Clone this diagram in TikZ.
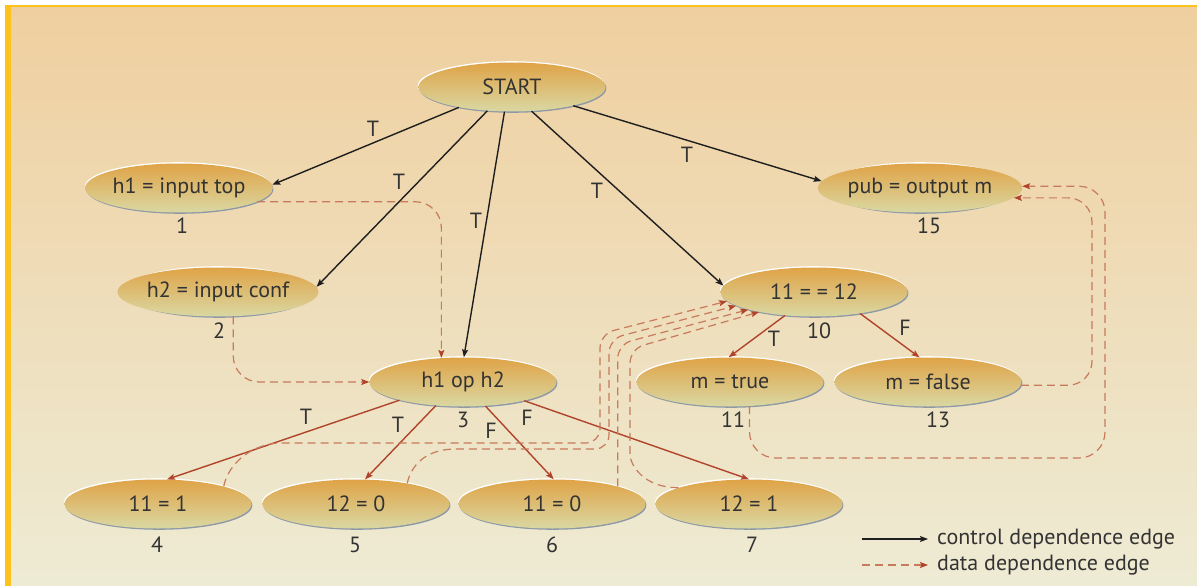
\documentclass[tikz,border=0pt]{standalone}
\usepackage{fontspec}
\setmainfont{PT Sans}
\usetikzlibrary{arrows.meta,shapes.geometric,calc}
\definecolor{bgtop}{HTML}{EFCF9F}
\definecolor{bgbot}{HTML}{EEEBD4}
\definecolor{framecol}{HTML}{FDC31C}
\definecolor{ntop}{HTML}{DFA347}
\definecolor{nbot}{HTML}{DAD8A3}
\definecolor{rimcol}{HTML}{8D99A6}
\definecolor{ctrlcol}{HTML}{1E1E1E}
\definecolor{cdepcol}{HTML}{B0442B}
\definecolor{ddepcol}{HTML}{C77A5C}
\definecolor{txtcol}{HTML}{333333}
\newcommand\pdgnode[4]{%
  \node[rimnode,fill=white] at ([shift={(-0.7pt,1.3pt)}]#2,#3) {};
  \node[rimnode,fill=rimcol] at ([shift={(0.9pt,-1.3pt)}]#2,#3) {};
  \node[pdg] (#1) at (#2,#3) {#4};
}
\begin{document}
\begin{tikzpicture}[x=1pt,y=-1pt,
  txtfont/.style={font=\fontsize{22}{25}\selectfont, text=txtcol},
  rimnode/.style={ellipse, minimum width=187pt, minimum height=49pt, inner sep=0pt, draw=none},
  pdg/.style={ellipse, minimum width=187pt, minimum height=49pt, inner sep=0pt, draw=none,
    top color=ntop, bottom color=nbot, txtfont},
  lab/.style={txtfont, inner sep=1pt},
  ctrl/.style={draw=ctrlcol, line width=1.4pt, -{Stealth[length=8pt,width=6pt,inset=1.5pt]}},
  cdep/.style={draw=cdepcol, line width=1.4pt, -{Stealth[length=8pt,width=6pt,inset=1.5pt]}},
  ddep/.style={draw=ddepcol, line width=1.2pt, dash pattern=on 8pt off 5pt,
    -{Stealth[length=8pt,width=6pt,inset=1.5pt,color=cdepcol]}},
]
\useasboundingbox (0,0) rectangle (1197,586);
\fill[white] (0,0) rectangle (1197,586);
\shade[top color=bgtop, bottom color=bgbot] (8,6) rectangle (1197,586);
\fill[framecol] (5,5) rectangle (1197,6.8);
\fill[framecol] (5,5) rectangle (10.5,586);

% nodes
\pdgnode{st}{512}{87}{START}
\pdgnode{n1}{179}{188}{h1 = input top}
\pdgnode{n2}{218}{292}{h2 = input conf}
\pdgnode{n3}{463}{382}{h1 op h2}
\pdgnode{n4}{158}{504}{11 = 1}
\pdgnode{n5}{356}{504}{12 = 0}
\pdgnode{n6}{552}{504}{11 = 0}
\pdgnode{n7}{749}{504}{12 = 1}
\pdgnode{n10}{814}{292}{11 = = 12}
\pdgnode{n11}{730}{382}{m = true}
\pdgnode{n13}{928}{382}{m = false}
\pdgnode{n15}{920}{188}{pub = output m}

% statement numbers
\node[lab] (l1) at (182,226) {1};
\node[lab] (l2) at (219,331) {2};
\node[lab] (l3) at (463,420) {3};
\node[lab] (l4) at (157,545) {4};
\node[lab] (l5) at (355,545) {5};
\node[lab] (l6) at (552,545) {6};
\node[lab] (l7) at (752,545) {7};
\node[lab] (l10) at (819,331) {10};
\node[lab] (l11) at (733,420) {11};
\node[lab] (l13) at (938,420) {13};
\node[lab] (l15) at (929,226) {15};

% control dependence edges
\draw[ctrl] (st.201) -- (n1.2);
\draw[ctrl] (st.224) -- (n2.3);
\draw[ctrl] (st.253) -- (n3.88);
\draw[ctrl] (st.-51) -- (n10.176);
\draw[ctrl] (st.-17) -- (n15.176);
\draw[cdep] (n3.196) -- (n4.70);
\draw[cdep] (n3.221) -- (n5.70);
\draw[cdep] (n3.-47) -- (n6.86);
\draw[cdep] (n3.-17) -- (n7.north);
\draw[cdep] (n10.219) -- (n11.93);
\draw[cdep] (n10.-25) -- (n13.109);

% edge labels
\node[lab] (t1) at (373,129) {T};
\node[lab] (t2) at (399,182) {T};
\node[lab] (t3) at (476,221) {T};
\node[lab] (t4) at (597,191) {T};
\node[lab] (t5) at (687,155) {T};
\node[lab] (t6) at (306,417) {T};
\node[lab] (t7) at (398,425) {T};
\node[lab] (f1) at (491,431) {F};
\node[lab] (f2) at (527,418) {F};
\node[lab] (t8) at (774,339) {T};
\node[lab] (f3) at (905,328) {F};

% data dependence edges
\draw[ddep, rounded corners=26pt] (n1.-10) -| (n3.132);
\draw[ddep, rounded corners=26pt] (n2.-58) |- (n3.west);
\draw[ddep, rounded corners=14pt] (n4.15) .. controls +(5,-25) and +(-40,0) .. (295,443) -- (600,443) -- (600,334) -- (n10.186);
\draw[ddep, rounded corners=14pt] (n5.22) .. controls +(5,-22) and +(-40,0) .. (470,449) -- (609,449) -- (609,339) -- (n10.190);
\draw[ddep, rounded corners=14pt] (n6.15) -- ++(0,-142) -- (n10.195);
\draw[ddep, rounded corners=14pt] (n7.167) .. controls +(-35,0) and +(0,25) .. (630,440) -- (630,349) -- (n10.200);
\draw[ddep, rounded corners=24pt] (n13.-2) -| (1092,300) |- (n15.-6);
\draw[ddep, rounded corners=26pt] (n11.-51) |- (1105,458) |- (n15.1);

% legend
\coordinate (lc1) at (862,539);
\coordinate (lc2) at (862,565);
\node[lab, anchor=west] (lt1) at (936,539) {control dependence edge};
\node[lab, anchor=west] (lt2) at (936,565) {data dependence edge};
\draw[ctrl, line width=1.2pt, shorten >=8pt] (lc1) -- (lt1.west);
\draw[ddep, shorten >=8pt] (lc2) -- (lt2.west);
\end{tikzpicture}
\end{document}
